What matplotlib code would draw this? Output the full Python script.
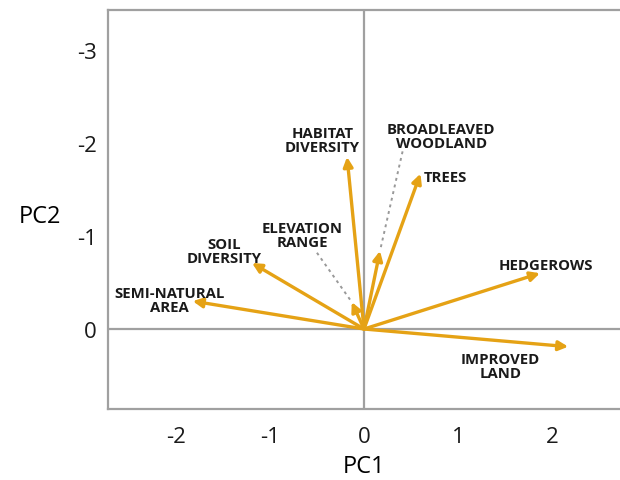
import matplotlib.pyplot as plt

plt.rcParams['font.family'] = ['Open Sans', 'DejaVu Sans']
plt.rcParams['axes.unicode_minus'] = False

# Loadings of each variable on PC1 / PC2
variables = ['HABITAT\nDIVERSITY', 'TREES', 'BROADLEAVED\nWOODLAND', 'ELEVATION\nRANGE',
             'SOIL\nDIVERSITY', 'SEMI-NATURAL\nAREA', 'HEDGEROWS', 'IMPROVED\nLAND']
pc1 = [-0.18, 0.60, 0.17, -0.13, -1.19, -1.82, 1.87, 2.17]
pc2 = [-1.85, -1.67, -0.84, -0.29, -0.71, -0.30, -0.60, 0.19]

# Label anchor points (data coords) and whether a leader line is needed
label_x = [-0.44, 0.86, 0.82, -0.66, -1.49, -2.07, 1.93, 1.45]
label_y = [-2.03, -1.63, -2.08, -1.01, -0.84, -0.31, -0.69, 0.40]
leader = [False, False, True, True, False, False, False, False]
leader_start = {2: (0.41, -1.91), 3: (-0.50, -0.82)}

gold = '#E5A215'
grey = '#A0A0A0'

fig = plt.figure(figsize=(6.2, 4.81), dpi=100)
ax = fig.add_axes([108 / 620, 71 / 481, 512 / 620, 399 / 481])
ax.set_xlim(-2.72, 2.72)
ax.set_ylim(0.86, -3.43)

ax.axhline(0, color=grey, lw=1.6, zorder=1)
ax.axvline(0, color=grey, lw=1.6, zorder=1)

for i, (x, y) in enumerate(zip(pc1, pc2)):
    if leader[i]:
        sx, sy = leader_start[i]
        ax.plot([sx, x], [sy, y], ls=(0, (1.5, 2.0)), color='#999999', lw=1.4, zorder=2)
    ax.annotate('', xy=(x, y), xytext=(0, 0),
                arrowprops=dict(arrowstyle='-|>', color=gold, lw=2.4,
                                mutation_scale=14, shrinkA=0, shrinkB=0),
                zorder=3)
    ax.text(label_x[i], label_y[i], variables[i], ha='center', va='center',
            fontsize=10.7, fontweight='bold', color='#1a1a1a', linespacing=1.0)

for side in ['left', 'bottom', 'top']:
    ax.spines[side].set_color(grey)
    ax.spines[side].set_linewidth(1.6)
ax.spines['right'].set_visible(False)

ax.set_xticks([-2, -1, 0, 1, 2])
ax.set_yticks([-3, -2, -1, 0])
ax.tick_params(length=0, labelsize=16, colors='#1a1a1a')
ax.tick_params(axis='y', pad=8)
ax.tick_params(axis='x', pad=12)
ax.set_xlabel('PC1', fontsize=17, labelpad=5)
ax.set_ylabel('PC2', fontsize=17, rotation=0, va='center', ha='center')
ax.yaxis.set_label_coords(-0.132, 0.484)

fig.savefig('out.png', dpi=100)
